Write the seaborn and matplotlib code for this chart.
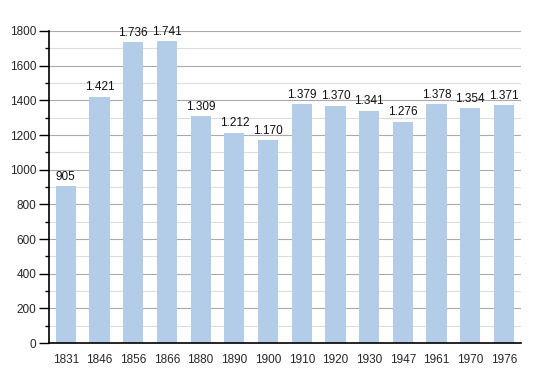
import matplotlib
matplotlib.use("Agg")
import matplotlib.pyplot as plt
import seaborn as sns
import pandas as pd
from matplotlib.ticker import MultipleLocator

years = ["1831", "1846", "1856", "1866", "1880", "1890", "1900", "1910", "1920", "1930", "1947", "1961", "1970", "1976"]
population = [905, 1421, 1736, 1741, 1309, 1212, 1170, 1379, 1370, 1341, 1276, 1378, 1354, 1371]
labels = ["905", "1.421", "1.736", "1.741", "1.309", "1.212", "1.170", "1.379", "1.370", "1.341", "1.276", "1.378", "1.354", "1.371"]

sns.set_theme(style="white")
plt.rcParams['font.family'] = ['Liberation Sans', 'DejaVu Sans']

df = pd.DataFrame({"year": years, "pop": population})

fig = plt.figure(figsize=(5.5, 3.73), dpi=100)
ax = fig.add_axes([0.089, 0.080, 0.858, 0.837])

sns.barplot(data=df, x="year", y="pop", color="#b3cde8", saturation=1, width=0.6,
            ax=ax, zorder=2, linewidth=0, edgecolor="none")

ax.set_ylim(0, 1800)
ax.set_xlim(-0.5, len(years) - 0.5)
ax.yaxis.set_major_locator(MultipleLocator(200))
ax.yaxis.set_minor_locator(MultipleLocator(100))
ax.grid(axis="y", which="major", color="#aaaaaa", linewidth=0.8, zorder=0)
ax.grid(axis="y", which="minor", color="#dddddd", linewidth=0.8, zorder=0)
ax.set_axisbelow(True)

for s in ["top", "right"]:
    ax.spines[s].set_visible(False)
for s in ["left", "bottom"]:
    ax.spines[s].set_color("black")
    ax.spines[s].set_linewidth(1.2)
    ax.spines[s].set_zorder(5)

ax.tick_params(axis="y", which="major", left=True, length=7, width=1, color="black", labelsize=8.5, pad=2)
ax.tick_params(axis="y", which="minor", left=True, length=3, width=1, color="black")
ax.tick_params(axis="x", bottom=False, labelsize=8.5, pad=2)
ax.set_xlabel("")
ax.set_ylabel("")

for i, (v, lab) in enumerate(zip(population, labels)):
    ax.text(i, v + 20, lab, ha="center", va="bottom", fontsize=8.5, color="#111111")

fig.savefig("out.png", dpi=100)
